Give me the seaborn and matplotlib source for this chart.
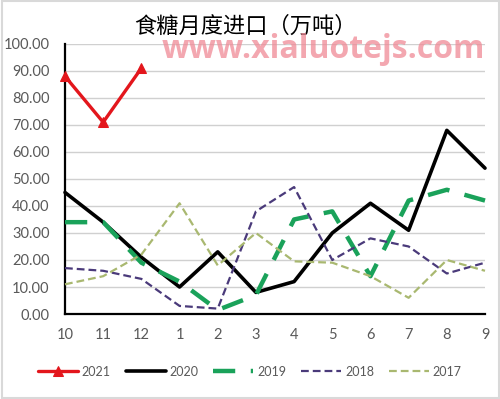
import numpy as np
import pandas as pd
import seaborn as sns
import matplotlib.pyplot as plt
from matplotlib.patches import Rectangle
from matplotlib.ticker import FormatStrFormatter

# month order of the marketing year (Oct -> Sep)
months = ["10", "11", "12", "1", "2", "3", "4", "5", "6", "7", "8", "9"]

# monthly sugar imports, 10k tonnes
y2021 = [88, 71, 91]
y2020 = [45, 34, 21, 10, 23, 8, 12, 30, 41, 31, 68, 54]
y2019 = [34, 34, 19, 12, 1.5, 7, 35, 38, 14, 42, 46, 42]
y2018 = [17, 16, 13, 3, 2, 38, 47, 20, 28, 25, 15, 19]
y2017 = [11, 14, 22, 41, 18, 30, 19.5, 19, 14, 6, 20, 16]

series = [
    ("2021", y2021, "#e3161c", 2.4, None, "^"),
    ("2020", y2020, "#000000", 2.6, None, None),
    ("2019", y2019, "#1aa25a", 3.2, (5, 3.5), None),
    ("2018", y2018, "#4a3a7a", 1.6, (3.5, 1.8), None),
    ("2017", y2017, "#a9b870", 1.6, (3.5, 1.8), None),
]

sns.set_style("white")
plt.rcParams['font.family'] = ['Lato', 'Noto Sans CJK SC', 'DejaVu Sans']

fig = plt.figure(figsize=(5, 3.99), dpi=100)
ax = fig.add_axes([0.13, 0.213, 0.84, 0.677])

for name, vals, color, lw, dash, marker in series:
    df = pd.DataFrame({"pos": np.arange(len(vals)), "val": vals})
    sns.lineplot(data=df, x="pos", y="val", ax=ax, color=color, linewidth=lw,
                 label=name, marker=marker, markersize=7 if marker else 0,
                 markeredgecolor=color, sort=False, clip_on=False, zorder=3)
    ln = ax.get_lines()[-1]
    if dash is not None:
        ln.set_dashes(dash)

ax.set_xlim(0, len(months) - 1)
ax.set_ylim(0, 100)
ax.set_xticks(np.arange(len(months)))
ax.set_xticklabels(months)
ax.set_yticks(np.arange(0, 101, 10))
ax.yaxis.set_major_formatter(FormatStrFormatter("%.2f"))
ax.set_xlabel("")
ax.set_ylabel("")

ax.grid(axis="y", color="#d0d0d0", linewidth=1)
ax.set_axisbelow(True)
for side in ["top", "right"]:
    ax.spines[side].set_visible(False)
for side in ["left", "bottom"]:
    ax.spines[side].set_color("black")
    ax.spines[side].set_linewidth(1.6)
ax.tick_params(axis="both", direction="out", length=4, width=1.2, color="black",
               labelcolor="#595959", labelsize=10.5)
ax.tick_params(axis="x", pad=6)
ax.tick_params(axis="y", pad=7)

fig.text(0.49, 0.935, "食糖月度进口（万吨）", ha="center", va="center", fontsize=16,
         family=['Noto Sans CJK SC', 'DejaVu Sans'], color="black")
fig.text(0.647, 0.875, "www.xialuotejs.com", ha="center", va="center", fontsize=23,
         fontweight="bold", color="#f08a96", alpha=0.75, family=['Open Sans', 'DejaVu Sans'])

ax.legend(loc="upper center", bbox_to_anchor=(0.44, -0.15), ncol=5, frameon=False,
          fontsize=9, handlelength=3.2, handletextpad=0.3, columnspacing=1.2,
          labelcolor="#595959")

fig.add_artist(Rectangle((0.003, 0.003), 0.994, 0.994, transform=fig.transFigure,
                         fill=False, edgecolor="#d9d9d9", linewidth=1.5))

fig.savefig("out.png", dpi=100)
